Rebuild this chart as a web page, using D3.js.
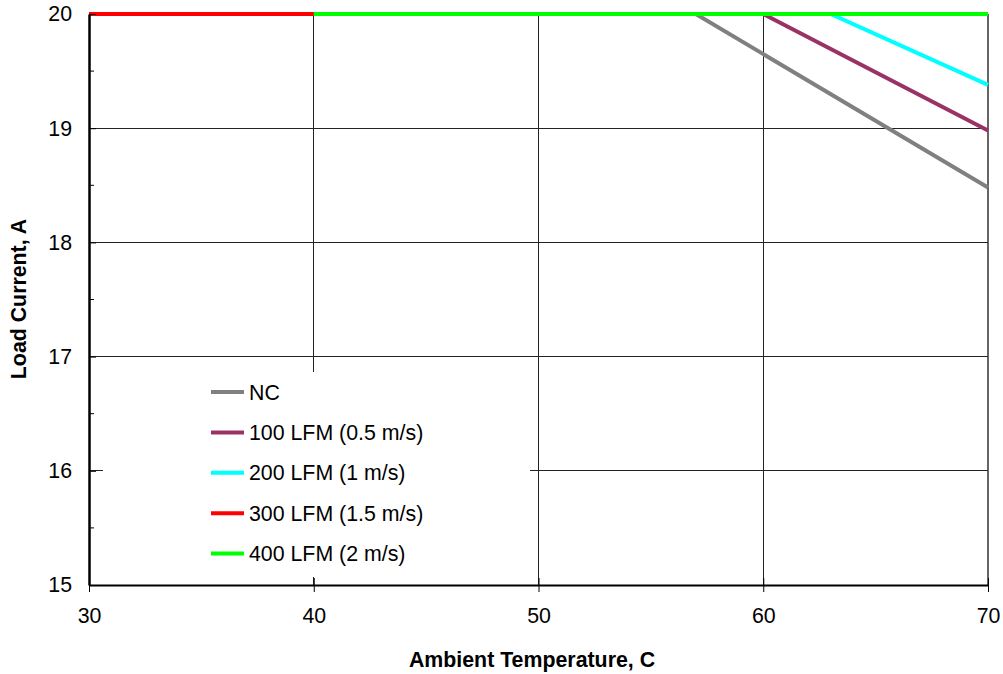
<!DOCTYPE html>
<html><head><meta charset="utf-8">
<script src="https://cdn.jsdelivr.net/npm/d3@7"></script>
<style>body{margin:0;background:#fff}svg{display:block}text{font-family:Arial,"Liberation Sans",sans-serif}</style>
</head><body>
<svg id="c" width="1003" height="674"></svg>
<script>
const seriesNames = ["NC","100 LFM (0.5 m/s)","200 LFM (1 m/s)","300 LFM (1.5 m/s)","400 LFM (2 m/s)"];
const seriesColors = ["#808080","#993366","#00FFFF","#FF0000","#00FF00"];
const ncTemp = [30,57,70];      const ncCurrent = [20,20,18.48];
const lfm100Temp = [30,60,70];  const lfm100Current = [20,20,18.98];
const lfm200Temp = [30,63,70];  const lfm200Current = [20,20,19.38];
const lfm300Temp = [30,70];     const lfm300Current = [20,20];
const lfm400Temp = [40,70];     const lfm400Current = [20,20];
const xTicks = [30,40,50,60,70];
const yTicks = [15,16,17,18,19,20];
const yMinorTicks = [15.5,16.5,17.5,18.5,19.5];

const temps = [ncTemp,lfm100Temp,lfm200Temp,lfm300Temp,lfm400Temp];
const currents = [ncCurrent,lfm100Current,lfm200Current,lfm300Current,lfm400Current];

const FS = 21.33;
const svg = d3.select("#c");
const L=89,R=988,T=14,B=585;
const x = d3.scaleLinear().domain([30,70]).range([L,R]);
const y = d3.scaleLinear().domain([15,20]).range([B,T]);

// gridlines
svg.append("g").selectAll("line").data(xTicks.slice(1,-1)).join("line")
  .attr("x1",d=>x(d)).attr("x2",d=>x(d)).attr("y1",T).attr("y2",B)
  .attr("stroke","#222").attr("stroke-width",1).attr("shape-rendering","crispEdges");
svg.append("g").selectAll("line").data(yTicks.slice(1,-1)).join("line")
  .attr("x1",L).attr("x2",R).attr("y1",d=>y(d)).attr("y2",d=>y(d))
  .attr("stroke","#222").attr("stroke-width",1).attr("shape-rendering","crispEdges");
// right border
svg.append("line").attr("x1",R).attr("x2",R).attr("y1",T).attr("y2",B)
  .attr("stroke","#333").attr("stroke-width",1.5);

// legend background
const lg = svg.append("g");
lg.append("rect").attr("x",103).attr("y",372).attr("width",427).attr("height",205).attr("fill","#fff");

// series
const line = d3.line().x(d=>x(d[0])).y(d=>y(d[1]));
temps.forEach((t,i)=>{
  svg.append("path").datum(t.map((v,j)=>[v,currents[i][j]]))
    .attr("d",line).attr("fill","none").attr("stroke",seriesColors[i])
    .attr("stroke-width",4).attr("stroke-linecap","butt");
});

// axes
const xAxis = svg.append("g").attr("transform",`translate(0,${B})`)
  .call(d3.axisBottom(x).tickValues(xTicks).tickSize(7).tickSizeOuter(0).tickPadding(16).tickFormat(d3.format("d")));
xAxis.select(".domain").attr("stroke","#000").attr("stroke-width",2);
xAxis.selectAll(".tick line").attr("y1",-7).attr("stroke","#000");
xAxis.selectAll("text").attr("font-size",FS).attr("fill","#000");

const yAxis = svg.append("g").attr("transform",`translate(${L},0)`)
  .call(d3.axisLeft(y).tickValues(yTicks).tickSize(7).tickSizeOuter(0).tickPadding(10).tickFormat(d3.format("d")));
yAxis.select(".domain").attr("stroke","#000").attr("stroke-width",2.5);
yAxis.selectAll(".tick line").attr("x2",7).attr("stroke","#000");
yAxis.selectAll("text").attr("font-size",FS).attr("fill","#000");
svg.append("g").selectAll("line").data(yMinorTicks).join("line")
  .attr("x1",L).attr("x2",L+5).attr("y1",d=>y(d)).attr("y2",d=>y(d)).attr("stroke","#000");

// titles
svg.append("text").attr("x",532).attr("y",667).attr("text-anchor","middle")
  .attr("font-size",FS).attr("font-weight","bold").text("Ambient Temperature, C");
svg.append("text").attr("transform","translate(26,299) rotate(-90)").attr("text-anchor","middle")
  .attr("font-size",FS).attr("font-weight","bold").text("Load Current, A");

// legend
seriesNames.forEach((n,i)=>{
  const yy = 392 + i*40.4;
  lg.append("line").attr("x1",211).attr("x2",244).attr("y1",yy).attr("y2",yy)
    .attr("stroke",seriesColors[i]).attr("stroke-width",4);
  lg.append("text").attr("x",249).attr("y",yy).attr("dy","0.36em").attr("font-size",FS).text(n);
});
</script>
</body></html>
